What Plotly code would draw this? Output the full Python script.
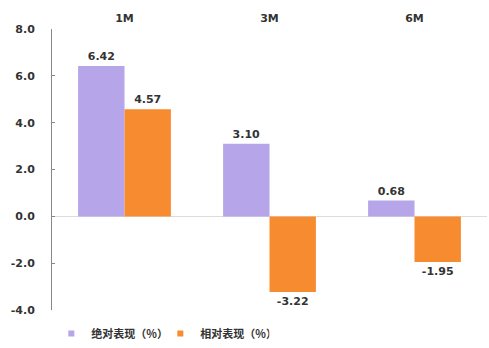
import plotly.graph_objects as go

categories = ["1M", "3M", "6M"]
absolute = [6.42, 3.10, 0.68]
relative = [4.57, -3.22, -1.95]
series_names = ["绝对表现（%）", "相对表现（%）"]
colors = ["#B6A6E9", "#F78B2F"]
tick_vals = [-4, -2, 0, 2, 4, 6, 8]
tick_text = ["-4.0", "-2.0", "0.0", "2.0", "4.0", "6.0", "8.0"]

num_font = "DejaVu Sans, Verdana, sans-serif"
cjk_font = "Noto Sans CJK SC, sans-serif"

fig = go.Figure()
for vals, name, col in zip([absolute, relative], series_names, colors):
    fig.add_trace(go.Bar(
        x=categories, y=vals, name=name, showlegend=False,
        marker=dict(color=col, line=dict(width=0)),
        text=[f"{v:.2f}" for v in vals], textposition="outside",
        textfont=dict(size=11, color="#333333", family=num_font, weight="bold"),
        cliponaxis=False,
    ))
# legend-only entries with small square markers
for name, col in zip(series_names, colors):
    fig.add_trace(go.Scatter(
        x=[None], y=[None], mode="markers", name=name,
        marker=dict(symbol="square", size=6, color=col),
        showlegend=True,
    ))

fig.update_layout(
    width=489, height=348,
    margin=dict(l=52, r=2, t=29, b=34),
    paper_bgcolor="white", plot_bgcolor="white",
    barmode="group", bargap=0.36, bargroupgap=0,
    font=dict(family=num_font, size=11, color="#333333"),
    showlegend=True,
    legend=dict(orientation="h", x=0.105, xref="container", y=11, yref="container",
                yanchor="middle", xanchor="left",
                font=dict(size=11, color="#333333", family=cjk_font, weight="bold"),
                itemwidth=30, tracegroupgap=0, entrywidth=64, entrywidthmode="pixels"),
    xaxis=dict(side="top", showline=False, ticks="", showgrid=False,
               tickfont=dict(size=11, color="#333333", weight="bold"),
               ticklabelstandoff=4),
    yaxis=dict(range=[-4, 8], tickvals=tick_vals, ticktext=tick_text,
               showgrid=False, showline=True, linecolor="#888888", linewidth=1,
               ticks="inside", ticklen=3, tickcolor="#888888",
               zeroline=True, zerolinecolor="#DDDDDD", zerolinewidth=1,
               tickfont=dict(size=11, color="#333333", weight="bold"),
               ticklabelstandoff=14),
)

fig.write_html("out.html")
